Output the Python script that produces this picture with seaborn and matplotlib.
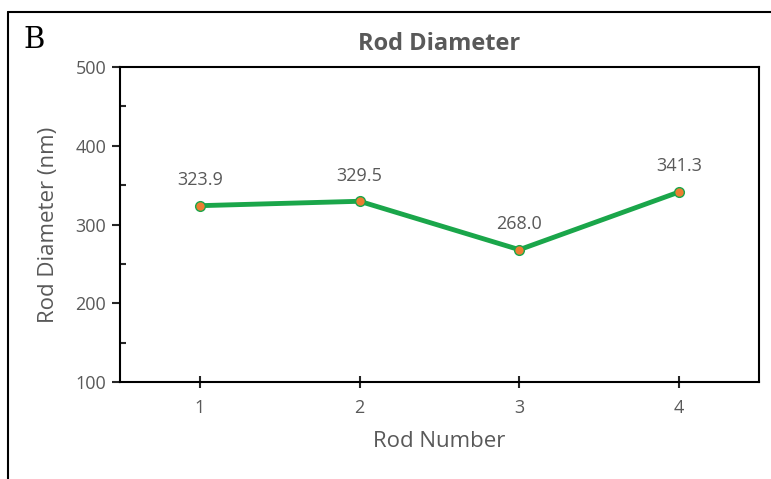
import matplotlib.pyplot as plt
import matplotlib.lines as mlines
from matplotlib.ticker import MultipleLocator
import seaborn as sns
import pandas as pd

rod_number = [1, 2, 3, 4]
rod_diameter = [323.9, 329.5, 268.0, 341.3]

df = pd.DataFrame({"Rod Number": rod_number, "Rod Diameter": rod_diameter})

sns.set_style("white")
plt.rcParams["font.family"] = ["Open Sans", "DejaVu Sans"]

gray = "#595959"
fig = plt.figure(figsize=(7.71, 4.79), dpi=100)
ax = fig.add_axes([120 / 771, 97 / 479, 639 / 771, 315 / 479])

sns.lineplot(
    data=df,
    x="Rod Number",
    y="Rod Diameter",
    ax=ax,
    color="#1aa64a",
    linewidth=3.5,
    marker="o",
    markersize=7,
    markerfacecolor="#ed7d31",
    markeredgecolor="#1aa64a",
    markeredgewidth=1,
)

for x, y in zip(rod_number, rod_diameter):
    ax.annotate(f"{y:.1f}", (x, y), xytext=(0, 12), textcoords="offset points",
                ha="center", va="bottom", fontsize=13, color=gray)

ax.set_xlim(0.5, 4.5)
ax.set_ylim(100, 500)
ax.set_xticks(rod_number)
ax.yaxis.set_major_locator(MultipleLocator(100))
ax.yaxis.set_minor_locator(MultipleLocator(50))
ax.tick_params(axis="y", which="major", direction="out", length=6, width=1.5,
               labelsize=13, labelcolor=gray, left=True, pad=4)
ax.tick_params(axis="y", which="minor", direction="in", length=4, width=1.5, left=True)
ax.tick_params(axis="x", which="major", direction="inout", length=8, width=1.5,
               labelsize=13, labelcolor=gray, bottom=True, pad=8)
for s in ax.spines.values():
    s.set_color("black")
    s.set_linewidth(1.5)

ax.set_xlabel("Rod Number", fontsize=16, color=gray, labelpad=10)
ax.set_ylabel("Rod Diameter (nm)", fontsize=16, color=gray, labelpad=12)
ax.set_title("Rod Diameter", fontsize=17, fontweight="bold", color=gray, pad=12)

fig.text(23 / 771, 1 - 40 / 479, "B", fontsize=21, family="DejaVu Serif",
         ha="left", va="center", color="black")

fig.add_artist(mlines.Line2D([8 / 771, 1], [1 - 12 / 479, 1 - 12 / 479],
                             color="black", linewidth=1.5, transform=fig.transFigure))
fig.add_artist(mlines.Line2D([8 / 771, 8 / 771], [0, 1 - 12 / 479],
                             color="black", linewidth=1.5, transform=fig.transFigure))

plt.savefig("out.png", dpi=100)
plt.close()
